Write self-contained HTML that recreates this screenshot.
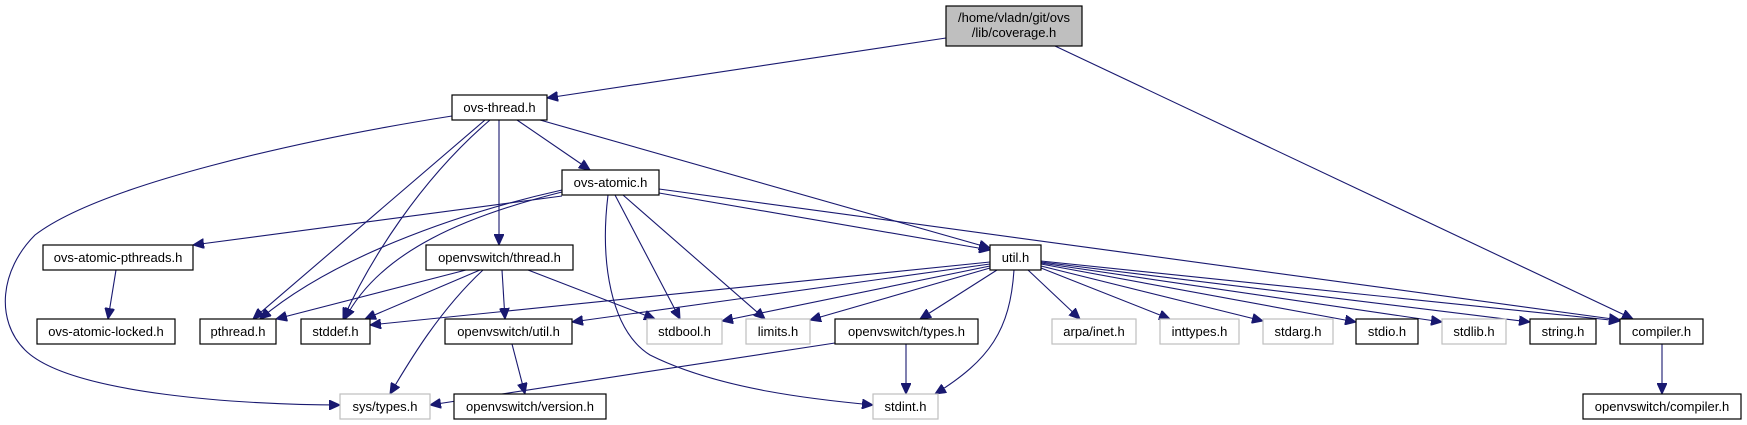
<!DOCTYPE html>
<html><head><meta charset="utf-8"><style>
html,body{margin:0;padding:0;background:#fff;}
svg{display:block;}
text{font-family:"Liberation Sans",sans-serif;font-size:13px;fill:#000;text-anchor:middle;}
.n{fill:#fff;stroke:#000;stroke-width:1.2;}
.g{fill:#fff;stroke:#bfbfbf;stroke-width:1.2;}
.e{fill:none;stroke:#191970;stroke-width:1.1;marker-end:url(#a);}
</style></head><body>
<svg width="1747" height="425" viewBox="0 0 1747 425">
<defs><marker id="a" markerWidth="12" markerHeight="10" refX="11" refY="5" orient="auto" markerUnits="userSpaceOnUse"><path d="M0,0 L11,5 L0,10 z" fill="#191970" stroke="#191970"/></marker></defs>
<g>
<path class="e" d="M946,38 L547,98"/>
<path class="e" d="M1055,46 L1633,319"/>
<path class="e" d="M452,116 C300,140 100,185 35,235 C0,270 -5,320 25,350 C70,395 250,405 340,405"/>
<path class="e" d="M485,120 L253,319"/>
<path class="e" d="M490,120 C420,180 370,260 343,319"/>
<path class="e" d="M499,120 L499,245"/>
<path class="e" d="M517,120 L590,170"/>
<path class="e" d="M540,120 L990,248"/>
<path class="e" d="M562,190 C450,215 330,260 260,319"/>
<path class="e" d="M562,192 C470,215 380,250 345,319"/>
<path class="e" d="M562,196 L193,245"/>
<path class="e" d="M615,195 L680,319"/>
<path class="e" d="M623,195 L765,319"/>
<path class="e" d="M608,195 C600,260 610,330 650,355 C720,390 820,400 873,405"/>
<path class="e" d="M659,193 L990,250"/>
<path class="e" d="M659,189 L1620,320"/>
<path class="e" d="M466,270 L276,319"/>
<path class="e" d="M480,270 L365,319"/>
<path class="e" d="M483,270 C440,310 410,360 390,394"/>
<path class="e" d="M502,270 L505,319"/>
<path class="e" d="M528,270 L655,319"/>
<path class="e" d="M512,344 L525,394"/>
<path class="e" d="M116,270 L108,319"/>
<path class="e" d="M990,262 L370,325"/>
<path class="e" d="M990,264 L572,322"/>
<path class="e" d="M990,266 L722,321"/>
<path class="e" d="M990,268 L810,320"/>
<path class="e" d="M997,270 L920,319"/>
<path class="e" d="M1014,270 C1010,330 990,360 935,394"/>
<path class="e" d="M1028,270 L1080,319"/>
<path class="e" d="M1041,268 L1170,319"/>
<path class="e" d="M1041,266 L1263,321"/>
<path class="e" d="M1041,264 L1356,322"/>
<path class="e" d="M1041,263 L1442,322"/>
<path class="e" d="M1041,262 L1530,322"/>
<path class="e" d="M1041,261 L1620,321"/>
<path class="e" d="M835,343 L430,405"/>
<path class="e" d="M906,344 L906,394"/>
<path class="e" d="M1662,344 L1662,394"/>
</g>
<g>
<rect x="946" y="6" width="136" height="40" fill="#bfbfbf" stroke="#000" stroke-width="1.2"/>
<text x="1014" y="22">/home/vladn/git/ovs</text><text x="1014" y="37">/lib/coverage.h</text>
<rect class="n" x="452" y="95" width="95" height="25"/><text x="499.5" y="112">ovs-thread.h</text>
<rect class="n" x="562" y="170" width="97" height="25"/><text x="610.5" y="187">ovs-atomic.h</text>
<rect class="n" x="43" y="245" width="150" height="25"/><text x="118" y="262">ovs-atomic-pthreads.h</text>
<rect class="n" x="426" y="245" width="147" height="25"/><text x="499.5" y="262">openvswitch/thread.h</text>
<rect class="n" x="990" y="245" width="51" height="25"/><text x="1015.5" y="262">util.h</text>
<rect class="n" x="37" y="319" width="138" height="25"/><text x="106" y="336">ovs-atomic-locked.h</text>
<rect class="n" x="200" y="319" width="76" height="25"/><text x="238" y="336">pthread.h</text>
<rect class="n" x="301" y="319" width="69" height="25"/><text x="335.5" y="336">stddef.h</text>
<rect class="n" x="445" y="319" width="127" height="25"/><text x="508.5" y="336">openvswitch/util.h</text>
<rect class="g" x="647" y="319" width="75" height="25"/><text x="684.5" y="336">stdbool.h</text>
<rect class="g" x="746" y="319" width="64" height="25"/><text x="778" y="336">limits.h</text>
<rect class="n" x="835" y="319" width="143" height="25"/><text x="906.5" y="336">openvswitch/types.h</text>
<rect class="g" x="1052" y="319" width="84" height="25"/><text x="1094" y="336">arpa/inet.h</text>
<rect class="g" x="1160" y="319" width="79" height="25"/><text x="1199.5" y="336">inttypes.h</text>
<rect class="g" x="1263" y="319" width="70" height="25"/><text x="1298" y="336">stdarg.h</text>
<rect class="n" x="1356" y="319" width="62" height="25"/><text x="1387" y="336">stdio.h</text>
<rect class="g" x="1442" y="319" width="64" height="25"/><text x="1474" y="336">stdlib.h</text>
<rect class="n" x="1530" y="319" width="66" height="25"/><text x="1563" y="336">string.h</text>
<rect class="n" x="1620" y="319" width="83" height="25"/><text x="1661.5" y="336">compiler.h</text>
<rect class="g" x="340" y="394" width="90" height="25"/><text x="385" y="411">sys/types.h</text>
<rect class="n" x="454" y="394" width="152" height="25"/><text x="530" y="411">openvswitch/version.h</text>
<rect class="g" x="873" y="394" width="65" height="25"/><text x="905.5" y="411">stdint.h</text>
<rect class="n" x="1583" y="394" width="158" height="25"/><text x="1662" y="411">openvswitch/compiler.h</text>
</g>
</svg>
</body></html>
